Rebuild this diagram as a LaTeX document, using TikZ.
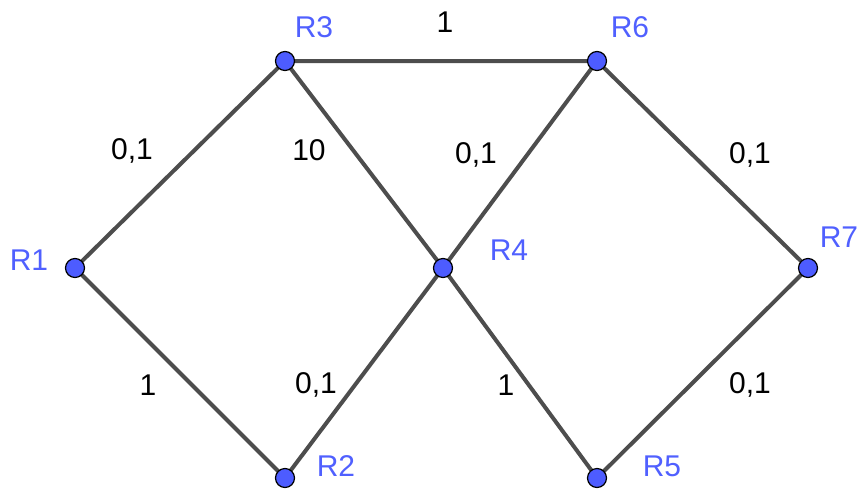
\documentclass[tikz,border=0pt]{standalone}
\usepackage{fontspec}
\setmainfont{Liberation Sans}
\definecolor{nodeblue}{HTML}{4D5CFF}
\definecolor{labblue}{HTML}{5060FF}
\definecolor{edgegray}{HTML}{4D4D4D}
\tikzset{
  router/.style={circle,draw=black,line width=1.2pt,fill=nodeblue,minimum size=19pt,inner sep=0pt},
  rlabel/.style={text=labblue,font=\fontsize{30}{30}\selectfont,inner sep=0pt},
  wlabel/.style={text=black,font=\fontsize{30}{30}\selectfont,inner sep=0pt},
  link/.style={draw=edgegray,line width=4pt}
}
\begin{document}
\begin{tikzpicture}[x=1pt,y=-1pt]
\useasboundingbox (0,0) rectangle (859,490);
\coordinate (c1) at (75,268);
\coordinate (c2) at (285,478);
\coordinate (c3) at (285,61);
\coordinate (c4) at (443,268);
\coordinate (c5) at (597,478);
\coordinate (c6) at (597,61);
\coordinate (c7) at (808,268);
\path[link] (c1) -- (c3) (c1) -- (c2) (c3) -- (c6) (c3) -- (c4) (c2) -- (c4)
  (c4) -- (c6) (c4) -- (c5) (c6) -- (c7) (c5) -- (c7);
\node[router] (R1) at (c1) {};
\node[router] (R2) at (c2) {};
\node[router] (R3) at (c3) {};
\node[router] (R4) at (c4) {};
\node[router] (R5) at (c5) {};
\node[router] (R6) at (c6) {};
\node[router] (R7) at (c7) {};
\node[rlabel] (l1) at (29,260) {R1};
\node[rlabel] (l2) at (336,466) {R2};
\node[rlabel] (l3) at (314,27) {R3};
\node[rlabel] (l4) at (509,250) {R4};
\node[rlabel] (l5) at (662,466) {R5};
\node[rlabel] (l6) at (630,27) {R6};
\node[rlabel] (l7) at (839,237) {R7};
\node[wlabel] (w13) at (132,151) {0,1};
\node[wlabel] (w34) at (309,150) {10};
\node[wlabel] (w36) at (445,22) {1};
\node[wlabel] (w46) at (476,155) {0,1};
\node[wlabel] (w67) at (750,155) {0,1};
\node[wlabel] (w12) at (148,385) {1};
\node[wlabel] (w24) at (316,385) {0,1};
\node[wlabel] (w45) at (506,385) {1};
\node[wlabel] (w57) at (750,385) {0,1};
\end{tikzpicture}
\end{document}
